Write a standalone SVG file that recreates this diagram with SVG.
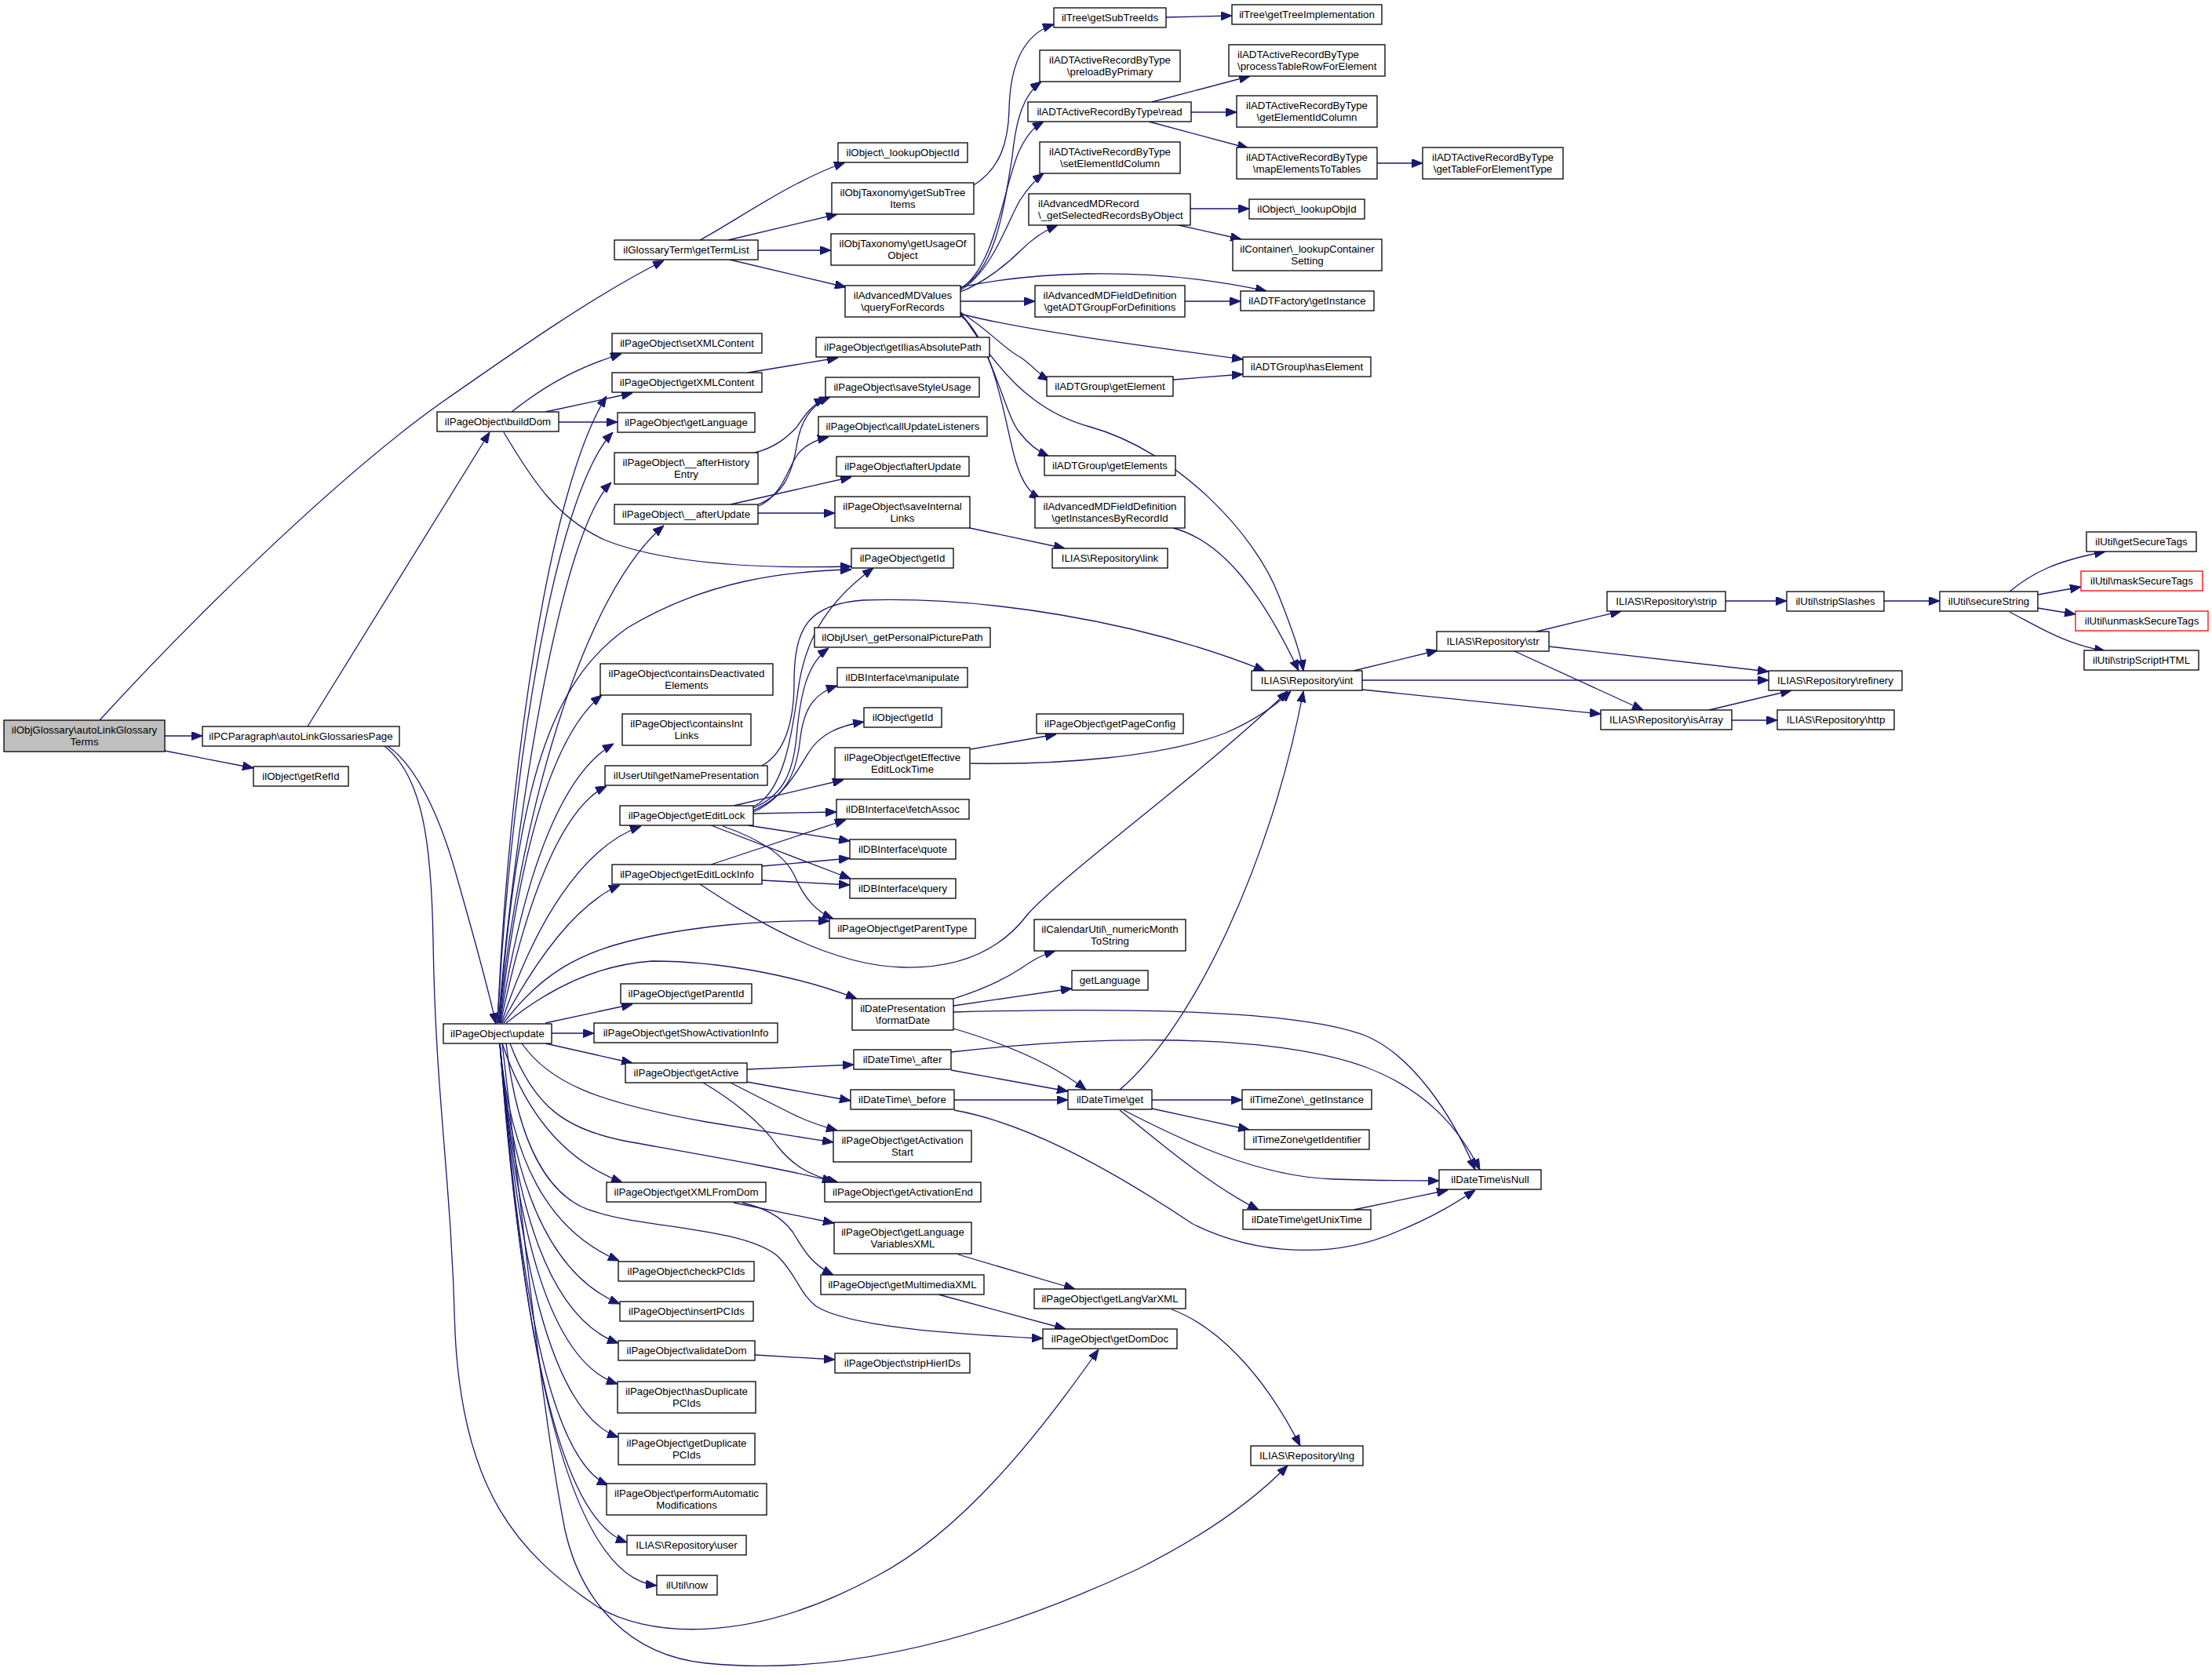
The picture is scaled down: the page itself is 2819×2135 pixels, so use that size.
<svg xmlns="http://www.w3.org/2000/svg" width="2819" height="2135" viewBox="0 0 2819 2135">
<style>
.n rect{fill:#fff;stroke:#000;stroke-width:1.3}
.root rect{fill:#bfbfbf}
.red rect{stroke:#f00}
text{font-family:"Liberation Sans",Arial,sans-serif;font-size:13.3px;text-anchor:middle;fill:#000}
text.l{text-anchor:start}
.e path{fill:none;stroke:#191970;stroke-width:1.3;marker-end:url(#arr)}
</style>
<defs>
<marker id="arr" markerUnits="userSpaceOnUse" markerWidth="14" markerHeight="11" refX="14" refY="5.5" orient="auto" viewBox="0 0 14 11">
<path d="M0,0 L14,5.5 L0,11 z" fill="#191970" stroke="#191970" stroke-width="1"/>
</marker>
</defs>
<rect width="2819" height="2135" fill="#fff"/>
<g class="e" id="edges">
<path d="M127,918 C230,805 420,615 560,515 C660,445 760,375 846,332"/>
<path d="M210,938 L258,938"/>
<path d="M210,957 L323,979"/>
<path d="M392,926 L624,551"/>
<path d="M494,951 C530,975 560,1040 580,1110 C600,1180 620,1250 632,1305"/>
<path d="M490,951 C540,990 550,1080 552,1200 C555,1400 575,1500 580,1700 C590,1900 660,1980 760,2047 C820,2085 950,2100 1117,2009 C1230,1950 1330,1820 1400,1720"/>
<path d="M640,1330 C660,1500 690,1800 720,1950 C740,2040 800,2110 900,2120 C1100,2140 1300,2070 1450,2000 C1540,1955 1600,1910 1641,1868"/>
<path d="M892,306 C940,280 1010,230 1077,207"/>
<path d="M928,306 L1067,273"/>
<path d="M966,319 L1059,319"/>
<path d="M930,331 L1078,366"/>
<path d="M1241,236 C1275,215 1285,180 1286,140 C1287,90 1300,45 1343,31"/>
<path d="M1486,22 L1570,20"/>
<path d="M1224,367 C1270,345 1280,260 1290,200 C1295,150 1305,120 1327,104"/>
<path d="M1224,368 C1270,340 1280,230 1300,190 C1310,170 1318,162 1330,155"/>
<path d="M1224,370 C1265,345 1285,280 1300,255 C1310,240 1318,230 1330,221"/>
<path d="M1224,372 C1255,360 1285,335 1300,320 C1315,305 1330,294 1348,287"/>
<path d="M1224,366 C1300,350 1450,335 1614,371"/>
<path d="M1224,384 L1319,384"/>
<path d="M1224,400 C1300,420 1450,440 1584,458"/>
<path d="M1224,398 C1260,420 1280,445 1300,455 C1315,465 1325,478 1337,485"/>
<path d="M1224,398 C1260,450 1300,520 1389,544 C1500,575 1600,680 1630,760 C1650,810 1658,835 1661,855"/>
<path d="M1224,400 C1265,440 1280,530 1300,552 C1310,565 1322,575 1337,582"/>
<path d="M1224,402 C1270,440 1280,540 1295,590 C1303,615 1312,628 1326,636"/>
<path d="M1468,130 L1593,97"/>
<path d="M1518,143 L1576,143"/>
<path d="M1464,155 L1591,189"/>
<path d="M1755,208 L1813,208"/>
<path d="M1517,266 L1592,266"/>
<path d="M1502,287 L1582,305"/>
<path d="M1510,384 L1581,384"/>
<path d="M1495,484 L1584,477"/>
<path d="M1495,673 C1560,690 1610,760 1655,855"/>
<path d="M1236,673 L1357,699"/>
<path d="M652,525 C690,495 730,470 792,451"/>
<path d="M695,525 L806,501"/>
<path d="M711,538 L787,538"/>
<path d="M642,551 C680,615 710,660 770,688 C850,720 970,725 1085,722"/>
<path d="M962,577 C990,570 1005,555 1015,545 C1025,530 1035,515 1052,508"/>
<path d="M966,643 C1000,630 1010,600 1015,570 C1020,535 1035,515 1058,506"/>
<path d="M967,645 C1000,630 1005,590 1020,575 C1030,565 1042,560 1056,557"/>
<path d="M931,643 L1085,608"/>
<path d="M966,654 L1064,654"/>
<path d="M953,475 L1068,456"/>
<path d="M634,1304 C648,980 700,620 773,505"/>
<path d="M634,1304 C650,1000 705,630 781,551"/>
<path d="M635,1304 C655,1060 712,680 779,615"/>
<path d="M636,1304 C660,1050 740,760 846,670"/>
<path d="M636,1304 C660,1000 700,870 800,800 C900,740 1000,728 1085,726"/>
<path d="M637,1304 C660,1100 700,940 767,886"/>
<path d="M637,1304 C665,1130 710,990 782,948"/>
<path d="M638,1304 C670,1150 715,1030 773,1002"/>
<path d="M639,1304 C680,1180 740,1080 817,1053"/>
<path d="M640,1304 C690,1210 740,1150 790,1128"/>
<path d="M642,1304 C690,1240 740,1215 800,1200 C880,1180 980,1172 1057,1174"/>
<path d="M645,1304 C700,1260 760,1230 831,1225 C920,1225 1020,1245 1092,1273"/>
<path d="M695,1304 L806,1280"/>
<path d="M703,1317 L757,1317"/>
<path d="M695,1330 L806,1355"/>
<path d="M665,1330 C700,1380 760,1405 900,1430 C960,1440 1010,1448 1062,1456"/>
<path d="M650,1330 C680,1410 720,1440 800,1455 C900,1473 1000,1490 1062,1506"/>
<path d="M640,1330 C670,1420 720,1480 793,1507"/>
<path d="M645,1330 C660,1460 700,1530 760,1545 C820,1565 950,1565 992,1602 C1015,1625 1020,1650 1040,1665 C1080,1690 1200,1700 1329,1706"/>
<path d="M637,1330 C650,1480 700,1570 789,1607"/>
<path d="M637,1330 C652,1510 700,1625 790,1662"/>
<path d="M637,1330 C655,1540 700,1680 788,1712"/>
<path d="M637,1330 C658,1570 700,1735 787,1764"/>
<path d="M637,1330 C660,1600 700,1800 788,1832"/>
<path d="M637,1330 C662,1640 700,1860 775,1893"/>
<path d="M637,1330 C665,1690 710,1935 799,1966"/>
<path d="M637,1330 C668,1750 730,2010 837,2021"/>
<path d="M952,1363 L1088,1357"/>
<path d="M952,1379 L1084,1403"/>
<path d="M931,1380 C960,1395 990,1410 1010,1420 C1030,1430 1045,1435 1067,1441"/>
<path d="M896,1380 C930,1400 970,1430 990,1460 C1010,1485 1030,1498 1068,1507"/>
<path d="M1212,1364 L1361,1391"/>
<path d="M1212,1341 C1350,1325 1600,1310 1740,1360 C1820,1390 1860,1440 1886,1491"/>
<path d="M1216,1402 L1361,1402"/>
<path d="M1216,1415 C1300,1430 1400,1480 1520,1560 C1600,1600 1700,1605 1780,1570 C1830,1550 1860,1530 1880,1517"/>
<path d="M1215,1273 C1250,1262 1280,1248 1300,1235 C1315,1225 1325,1218 1345,1212"/>
<path d="M1215,1282 L1366,1260"/>
<path d="M1215,1290 C1400,1285 1650,1285 1740,1320 C1800,1345 1850,1420 1880,1491"/>
<path d="M1215,1311 C1280,1330 1340,1355 1384,1389"/>
<path d="M1468,1402 L1583,1402"/>
<path d="M1468,1413 L1592,1440"/>
<path d="M1427,1415 C1470,1450 1540,1510 1604,1542"/>
<path d="M1432,1415 C1500,1450 1600,1500 1700,1503 C1760,1505 1800,1505 1834,1505"/>
<path d="M1427,1389 C1520,1310 1620,1100 1661,881"/>
<path d="M1725,1542 L1845,1517"/>
<path d="M1725,855 L1832,829"/>
<path d="M1736,867 L2254,867"/>
<path d="M1736,879 L2040,910"/>
<path d="M1958,805 L2066,779"/>
<path d="M1974,824 L2254,856"/>
<path d="M1930,830 L2094,905"/>
<path d="M2199,766 L2277,766"/>
<path d="M2401,766 L2472,766"/>
<path d="M2561,754 C2590,730 2620,715 2683,703"/>
<path d="M2597,758 L2652,748"/>
<path d="M2597,775 L2645,783"/>
<path d="M2561,780 C2600,800 2630,820 2683,830"/>
<path d="M2178,905 L2283,880"/>
<path d="M2207,918 L2265,918"/>
<path d="M1237,955 L1346,936"/>
<path d="M1237,973 C1350,975 1480,965 1560,935 C1600,918 1625,900 1645,881"/>
<path d="M892,1127 C950,1165 1050,1230 1150,1233 C1230,1235 1280,1205 1310,1165 C1360,1110 1540,980 1641,881"/>
<path d="M971,976 C1000,960 1012,920 1012,870 C1012,800 1030,770 1100,765 C1250,760 1450,790 1612,855"/>
<path d="M960,1028 C1000,1010 1010,930 1017,880 C1025,820 1050,770 1113,724"/>
<path d="M960,1030 C995,1015 1010,990 1015,940 C1020,880 1030,845 1056,826"/>
<path d="M960,1033 C1000,1015 1015,990 1020,940 C1025,900 1040,883 1067,874"/>
<path d="M960,1035 C995,1020 1015,985 1030,960 C1045,935 1070,925 1101,920"/>
<path d="M935,1027 L1075,994"/>
<path d="M960,1037 L1066,1035"/>
<path d="M953,1052 L1083,1072"/>
<path d="M906,1052 L1084,1120"/>
<path d="M921,1053 C970,1070 1000,1090 1012,1115 C1025,1145 1040,1162 1062,1171"/>
<path d="M906,1102 L1078,1045"/>
<path d="M971,1104 L1083,1094"/>
<path d="M971,1122 L1083,1128"/>
<path d="M935,1533 L1063,1559"/>
<path d="M946,1533 C975,1540 995,1550 1010,1570 C1025,1595 1035,1612 1062,1625"/>
<path d="M1221,1599 L1370,1643"/>
<path d="M1196,1650 L1358,1694"/>
<path d="M1493,1669 C1550,1690 1610,1750 1657,1843"/>
<path d="M962,1727 L1064,1733"/>
</g>
<g id="n1" class="n root"><rect x="5" y="918" width="205" height="40"/><text x="107.5" y="935.4">ilObjGlossary\autoLinkGlossary</text><text x="107.5" y="950">Terms</text></g>
<g id="n2" class="n"><rect x="258" y="926" width="251" height="25"/><text x="383.5" y="943.2">ilPCParagraph\autoLinkGlossariesPage</text></g>
<g id="n3" class="n"><rect x="323" y="977" width="121" height="25"/><text x="383.5" y="994.2">ilObject\getRefId</text></g>
<g id="n4" class="n"><rect x="557" y="525" width="155" height="25"/><text x="634.5" y="542.2">ilPageObject\buildDom</text></g>
<g id="n5" class="n"><rect x="565" y="1305" width="138" height="25"/><text x="634" y="1322.2">ilPageObject\update</text></g>
<g id="n6" class="n"><rect x="783" y="306" width="183" height="25"/><text x="874.5" y="323.2">ilGlossaryTerm\getTermList</text></g>
<g id="n7" class="n"><rect x="1068" y="182" width="165" height="25"/><text x="1150.5" y="199.2">ilObject\_lookupObjectId</text></g>
<g id="n8" class="n"><rect x="1060" y="233" width="181" height="40"/><text x="1150.5" y="250.4">ilObjTaxonomy\getSubTree</text><text x="1150.5" y="265">Items</text></g>
<g id="n9" class="n"><rect x="1059" y="298" width="183" height="40"/><text x="1150.5" y="315.4">ilObjTaxonomy\getUsageOf</text><text x="1150.5" y="330">Object</text></g>
<g id="n10" class="n"><rect x="1077" y="364" width="147" height="40"/><text x="1150.5" y="381.4">ilAdvancedMDValues</text><text x="1150.5" y="396">\queryForRecords</text></g>
<g id="n11" class="n"><rect x="780" y="425" width="191" height="25"/><text x="875.5" y="442.2">ilPageObject\setXMLContent</text></g>
<g id="n12" class="n"><rect x="780" y="475" width="191" height="25"/><text x="875.5" y="492.2">ilPageObject\getXMLContent</text></g>
<g id="n13" class="n"><rect x="787" y="526" width="175" height="25"/><text x="874.5" y="543.2">ilPageObject\getLanguage</text></g>
<g id="n14" class="n"><rect x="783" y="577" width="183" height="40"/><text x="874.5" y="594.4">ilPageObject\__afterHistory</text><text x="874.5" y="609">Entry</text></g>
<g id="n15" class="n"><rect x="783" y="643" width="183" height="25"/><text x="874.5" y="660.2">ilPageObject\__afterUpdate</text></g>
<g id="n16" class="n"><rect x="1040" y="430" width="221" height="25"/><text x="1150.5" y="447.2">ilPageObject\getIliasAbsolutePath</text></g>
<g id="n17" class="n"><rect x="1052" y="481" width="196" height="25"/><text x="1150" y="498.2">ilPageObject\saveStyleUsage</text></g>
<g id="n18" class="n"><rect x="1043" y="531" width="215" height="25"/><text x="1150.5" y="548.2">ilPageObject\callUpdateListeners</text></g>
<g id="n19" class="n"><rect x="1066" y="582" width="169" height="25"/><text x="1150.5" y="599.2">ilPageObject\afterUpdate</text></g>
<g id="n20" class="n"><rect x="1064" y="633" width="172" height="40"/><text x="1150" y="650.4">ilPageObject\saveInternal</text><text x="1150" y="665">Links</text></g>
<g id="n21" class="n"><rect x="1085" y="699" width="130" height="25"/><text x="1150" y="716.2">ilPageObject\getId</text></g>
<g id="n22" class="n"><rect x="765" y="846" width="220" height="40"/><text x="875" y="863.4">ilPageObject\containsDeactivated</text><text x="875" y="878">Elements</text></g>
<g id="n23" class="n"><rect x="793" y="910" width="164" height="40"/><text x="875" y="927.4">ilPageObject\containsInt</text><text x="875" y="942">Links</text></g>
<g id="n24" class="n"><rect x="771" y="976" width="207" height="25"/><text x="874.5" y="993.2">ilUserUtil\getNamePresentation</text></g>
<g id="n25" class="n"><rect x="790" y="1027" width="170" height="25"/><text x="875" y="1044.2">ilPageObject\getEditLock</text></g>
<g id="n26" class="n"><rect x="780" y="1102" width="191" height="25"/><text x="875.5" y="1119.2">ilPageObject\getEditLockInfo</text></g>
<g id="n27" class="n"><rect x="1038" y="800" width="224" height="25"/><text x="1150" y="817.2">ilObjUser\_getPersonalPicturePath</text></g>
<g id="n28" class="n"><rect x="1067" y="851" width="166" height="25"/><text x="1150" y="868.2">ilDBInterface\manipulate</text></g>
<g id="n29" class="n"><rect x="1101" y="902" width="99" height="25"/><text x="1150.5" y="919.2">ilObject\getId</text></g>
<g id="n30" class="n"><rect x="1064" y="953" width="172" height="40"/><text x="1150" y="970.4">ilPageObject\getEffective</text><text x="1150" y="985">EditLockTime</text></g>
<g id="n31" class="n"><rect x="1066" y="1019" width="169" height="25"/><text x="1150.5" y="1036.2">ilDBInterface\fetchAssoc</text></g>
<g id="n32" class="n"><rect x="1083" y="1070" width="135" height="25"/><text x="1150.5" y="1087.2">ilDBInterface\quote</text></g>
<g id="n33" class="n"><rect x="1083" y="1120" width="135" height="25"/><text x="1150.5" y="1137.2">ilDBInterface\query</text></g>
<g id="n34" class="n"><rect x="1057" y="1171" width="186" height="25"/><text x="1150" y="1188.2">ilPageObject\getParentType</text></g>
<g id="n35" class="n"><rect x="791" y="1254" width="167" height="25"/><text x="874.5" y="1271.2">ilPageObject\getParentId</text></g>
<g id="n36" class="n"><rect x="757" y="1304" width="234" height="25"/><text x="874" y="1321.2">ilPageObject\getShowActivationInfo</text></g>
<g id="n37" class="n"><rect x="1086" y="1273" width="129" height="40"/><text x="1150.5" y="1290.4">ilDatePresentation</text><text x="1150.5" y="1305">\formatDate</text></g>
<g id="n38" class="n"><rect x="797" y="1355" width="155" height="25"/><text x="874.5" y="1372.2">ilPageObject\getActive</text></g>
<g id="n39" class="n"><rect x="1088" y="1338" width="124" height="25"/><text x="1150" y="1355.2">ilDateTime\_after</text></g>
<g id="n40" class="n"><rect x="1084" y="1389" width="132" height="25"/><text x="1150" y="1406.2">ilDateTime\_before</text></g>
<g id="n41" class="n"><rect x="1062" y="1441" width="176" height="40"/><text x="1150" y="1458.4">ilPageObject\getActivation</text><text x="1150" y="1473">Start</text></g>
<g id="n42" class="n"><rect x="1051" y="1507" width="199" height="25"/><text x="1150.5" y="1524.2">ilPageObject\getActivationEnd</text></g>
<g id="n43" class="n"><rect x="773" y="1507" width="203" height="25"/><text x="874.5" y="1524.2">ilPageObject\getXMLFromDom</text></g>
<g id="n44" class="n"><rect x="1063" y="1558" width="175" height="40"/><text x="1150.5" y="1575.4">ilPageObject\getLanguage</text><text x="1150.5" y="1590">VariablesXML</text></g>
<g id="n45" class="n"><rect x="1046" y="1625" width="208" height="25"/><text x="1150" y="1642.2">ilPageObject\getMultimediaXML</text></g>
<g id="n46" class="n"><rect x="788" y="1608" width="173" height="25"/><text x="874.5" y="1625.2">ilPageObject\checkPCIds</text></g>
<g id="n47" class="n"><rect x="790" y="1659" width="170" height="25"/><text x="875" y="1676.2">ilPageObject\insertPCIds</text></g>
<g id="n48" class="n"><rect x="788" y="1709" width="174" height="25"/><text x="875" y="1726.2">ilPageObject\validateDom</text></g>
<g id="n49" class="n"><rect x="1064" y="1725" width="172" height="25"/><text x="1150" y="1742.2">ilPageObject\stripHierIDs</text></g>
<g id="n50" class="n"><rect x="787" y="1761" width="176" height="40"/><text x="875" y="1778.4">ilPageObject\hasDuplicate</text><text x="875" y="1793">PCIds</text></g>
<g id="n51" class="n"><rect x="788" y="1827" width="174" height="40"/><text x="875" y="1844.4">ilPageObject\getDuplicate</text><text x="875" y="1859">PCIds</text></g>
<g id="n52" class="n"><rect x="773" y="1891" width="204" height="40"/><text x="875" y="1908.4">ilPageObject\performAutomatic</text><text x="875" y="1923">Modifications</text></g>
<g id="n53" class="n"><rect x="799" y="1957" width="152" height="25"/><text x="875" y="1974.2">ILIAS\Repository\user</text></g>
<g id="n54" class="n"><rect x="837" y="2008" width="77" height="25"/><text x="875.5" y="2025.2">ilUtil\now</text></g>
<g id="n55" class="n"><rect x="1343" y="10" width="143" height="25"/><text x="1414.5" y="27.2">ilTree\getSubTreeIds</text></g>
<g id="n56" class="n"><rect x="1570" y="6" width="191" height="25"/><text x="1665.5" y="23.2">ilTree\getTreeImplementation</text></g>
<g id="n57" class="n"><rect x="1325" y="64" width="179" height="40"/><text x="1414.5" y="81.4">ilADTActiveRecordByType</text><text x="1414.5" y="96">\preloadByPrimary</text></g>
<g id="n58" class="n"><rect x="1310" y="130" width="208" height="25"/><text x="1414" y="147.2">ilADTActiveRecordByType\read</text></g>
<g id="n59" class="n"><rect x="1566" y="57" width="199" height="40"/><text class="l" x="1577" y="74.4">ilADTActiveRecordByType</text><text class="l" x="1577" y="89">\processTableRowForElement</text></g>
<g id="n60" class="n"><rect x="1576" y="122" width="179" height="40"/><text x="1665.5" y="139.4">ilADTActiveRecordByType</text><text x="1665.5" y="154">\getElementIdColumn</text></g>
<g id="n61" class="n"><rect x="1325" y="181" width="179" height="40"/><text x="1414.5" y="198.4">ilADTActiveRecordByType</text><text x="1414.5" y="213">\setElementIdColumn</text></g>
<g id="n62" class="n"><rect x="1576" y="188" width="179" height="40"/><text x="1665.5" y="205.4">ilADTActiveRecordByType</text><text x="1665.5" y="220">\mapElementsToTables</text></g>
<g id="n63" class="n"><rect x="1813" y="188" width="179" height="40"/><text x="1902.5" y="205.4">ilADTActiveRecordByType</text><text x="1902.5" y="220">\getTableForElementType</text></g>
<g id="n64" class="n"><rect x="1311" y="247" width="206" height="40"/><text class="l" x="1323" y="264.4">ilAdvancedMDRecord</text><text class="l" x="1323" y="279">\_getSelectedRecordsByObject</text></g>
<g id="n65" class="n"><rect x="1592" y="254" width="147" height="25"/><text x="1665.5" y="271.2">ilObject\_lookupObjId</text></g>
<g id="n66" class="n"><rect x="1571" y="305" width="190" height="40"/><text x="1666" y="322.4">ilContainer\_lookupContainer</text><text x="1666" y="337">Setting</text></g>
<g id="n67" class="n"><rect x="1319" y="364" width="191" height="40"/><text x="1414.5" y="381.4">ilAdvancedMDFieldDefinition</text><text x="1414.5" y="396">\getADTGroupForDefinitions</text></g>
<g id="n68" class="n"><rect x="1581" y="371" width="170" height="25"/><text x="1666" y="388.2">ilADTFactory\getInstance</text></g>
<g id="n69" class="n"><rect x="1584" y="455" width="163" height="25"/><text x="1665.5" y="472.2">ilADTGroup\hasElement</text></g>
<g id="n70" class="n"><rect x="1334" y="480" width="161" height="25"/><text x="1414.5" y="497.2">ilADTGroup\getElement</text></g>
<g id="n71" class="n"><rect x="1331" y="581" width="167" height="25"/><text x="1414.5" y="598.2">ilADTGroup\getElements</text></g>
<g id="n72" class="n"><rect x="1319" y="633" width="191" height="40"/><text x="1414.5" y="650.4">ilAdvancedMDFieldDefinition</text><text x="1414.5" y="665">\getInstancesByRecordId</text></g>
<g id="n73" class="n"><rect x="1341" y="699" width="147" height="25"/><text x="1414.5" y="716.2">ILIAS\Repository\link</text></g>
<g id="n74" class="n"><rect x="1595" y="855" width="141" height="25"/><text x="1665.5" y="872.2">ILIAS\Repository\int</text></g>
<g id="n75" class="n"><rect x="1321" y="910" width="187" height="25"/><text x="1414.5" y="927.2">ilPageObject\getPageConfig</text></g>
<g id="n76" class="n"><rect x="1318" y="1172" width="193" height="40"/><text x="1414.5" y="1189.4">ilCalendarUtil\_numericMonth</text><text x="1414.5" y="1204">ToString</text></g>
<g id="n77" class="n"><rect x="1366" y="1237" width="97" height="25"/><text x="1414.5" y="1254.2">getLanguage</text></g>
<g id="n78" class="n"><rect x="1361" y="1389" width="107" height="25"/><text x="1414.5" y="1406.2">ilDateTime\get</text></g>
<g id="n79" class="n"><rect x="1583" y="1389" width="165" height="25"/><text x="1665.5" y="1406.2">ilTimeZone\_getInstance</text></g>
<g id="n80" class="n"><rect x="1586" y="1440" width="159" height="25"/><text x="1665.5" y="1457.2">ilTimeZone\getIdentifier</text></g>
<g id="n81" class="n"><rect x="1584" y="1542" width="163" height="25"/><text x="1665.5" y="1559.2">ilDateTime\getUnixTime</text></g>
<g id="n82" class="n"><rect x="1318" y="1643" width="193" height="25"/><text x="1414.5" y="1660.2">ilPageObject\getLangVarXML</text></g>
<g id="n83" class="n"><rect x="1329" y="1694" width="171" height="25"/><text x="1414.5" y="1711.2">ilPageObject\getDomDoc</text></g>
<g id="n84" class="n"><rect x="1594" y="1843" width="143" height="25"/><text x="1665.5" y="1860.2">ILIAS\Repository\lng</text></g>
<g id="n85" class="n"><rect x="1831" y="805" width="143" height="25"/><text x="1902.5" y="822.2">ILIAS\Repository\str</text></g>
<g id="n86" class="n"><rect x="2048" y="754" width="151" height="25"/><text x="2123.5" y="771.2">ILIAS\Repository\strip</text></g>
<g id="n87" class="n"><rect x="2277" y="754" width="124" height="25"/><text x="2339" y="771.2">ilUtil\stripSlashes</text></g>
<g id="n88" class="n"><rect x="2472" y="754" width="125" height="25"/><text x="2534.5" y="771.2">ilUtil\secureString</text></g>
<g id="n89" class="n"><rect x="2659" y="678" width="140" height="25"/><text x="2729" y="695.2">ilUtil\getSecureTags</text></g>
<g id="n90" class="n red"><rect x="2652" y="728" width="155" height="25"/><text x="2729.5" y="745.2">ilUtil\maskSecureTags</text></g>
<g id="n91" class="n red"><rect x="2645" y="779" width="169" height="25"/><text x="2729.5" y="796.2">ilUtil\unmaskSecureTags</text></g>
<g id="n92" class="n"><rect x="2656" y="829" width="146" height="25"/><text x="2729" y="846.2">ilUtil\stripScriptHTML</text></g>
<g id="n93" class="n"><rect x="2254" y="855" width="170" height="25"/><text x="2339" y="872.2">ILIAS\Repository\refinery</text></g>
<g id="n94" class="n"><rect x="2040" y="905" width="167" height="25"/><text x="2123.5" y="922.2">ILIAS\Repository\isArray</text></g>
<g id="n95" class="n"><rect x="2265" y="905" width="149" height="25"/><text x="2339.5" y="922.2">ILIAS\Repository\http</text></g>
<g id="n96" class="n"><rect x="1834" y="1491" width="130" height="25"/><text x="1899" y="1508.2">ilDateTime\isNull</text></g>
</svg>
